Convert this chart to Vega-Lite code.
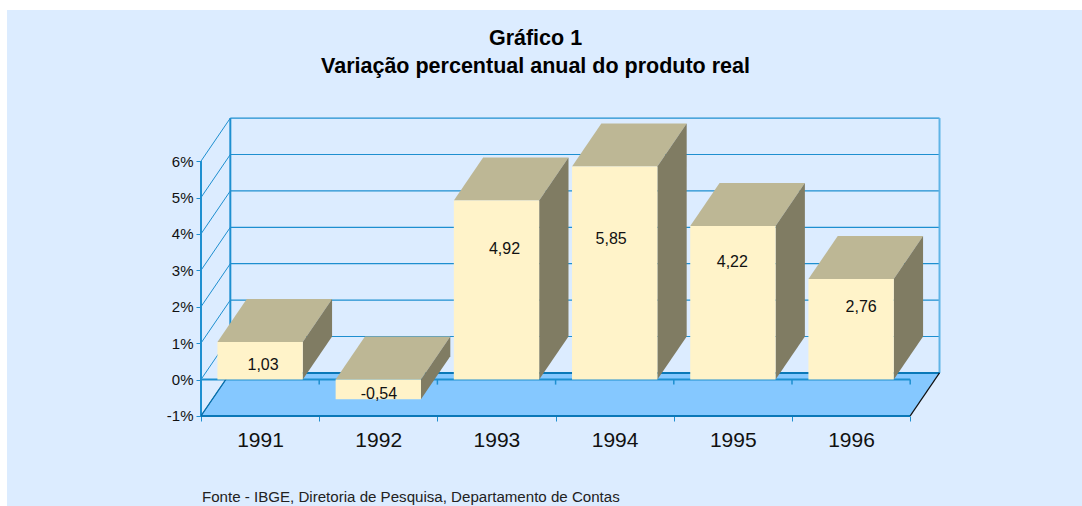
{
"$schema":"https://vega.github.io/schema/vega-lite/v6.json",
"width":1075,"height":496,
"autosize":{"type":"none"},
"padding":{"left":7,"top":10,"right":0,"bottom":0},
"background":"#FFFFFF",
"title":{"text":["Gráfico 1","Variação percentual anual do produto real"],"font":"Liberation Sans","fontWeight":"bold","fontSize":21.5,"lineHeight":28,"color":"#000000","anchor":"middle","dx":-9,"offset":-89,"baseline":"bottom"},
"config":{"view":{"fill":"#DCECFF","stroke":null},"font":"Liberation Sans"},
"datasets":{
"bars":[{"year":1991,"value":1.03},{"year":1992,"value":-0.54},{"year":1993,"value":4.92},{"year":1994,"value":5.85},{"year":1995,"value":4.22},{"year":1996,"value":2.76}],
"levels":[{"v":-1},{"v":0},{"v":1},{"v":2},{"v":3},{"v":4},{"v":5},{"v":6}],
"cats":[{"i":0},{"i":1},{"i":2},{"i":3},{"i":4},{"i":5},{"i":6}],
"one":[{"n":1}]
},
"layer":[
{"data":{"name":"one"},"transform":[{"calculate":"[0,1,2,3]","as":"k"},{"flatten":["k"]},{"calculate":"[0,0.248,6,6.248][datum.k]","as":"px"},{"calculate":"[-1,0.181,0.181,0.181][datum.k]","as":"hi"},{"calculate":"[-1,-1,-1,0.181][datum.k]","as":"lo"}],
"mark":{"type":"area","fill":"#85C8FF","stroke":null},
"encoding":{
"x":{"field":"px","type":"quantitative","scale":{"domain":[-1.6413,7.4535],"nice":false,"zero":false},"axis":{"values":[0,1,2,3,4,5,6],"labelExpr":"datum.value<6 ? ''+(1991+datum.value) : ''","labelOffset":59,"title":null,"domain":false,"grid":false,"offset":-90,"tickSize":5,"tickColor":"#1E8FD0","labelFont":"Liberation Sans","labelFontSize":21,"labelColor":"#111111","labelPadding":8,"labelOverlap":false,"labelFlush":false}},
"y":{"field":"hi","type":"quantitative","stack":null,"scale":{"domain":[-3.475,10.151],"nice":false,"zero":false},"axis":{"values":[-1,0,1,2,3,4,5,6],"labelExpr":"datum.value+'%'","title":null,"domain":false,"grid":false,"offset":-194,"tickSize":5,"tickColor":"#1E8FD0","labelFont":"Liberation Sans","labelFontSize":15,"labelColor":"#111111","labelPadding":3}},
"y2":{"field":"lo"}}},
{"data":{"name":"levels"},"transform":[{"calculate":"datum.v+1.181","as":"b"}],
"mark":{"type":"rule","color":"#1E8FD0","strokeWidth":1.2},
"encoding":{"x":{"datum":0.248,"type":"quantitative"},"x2":{"datum":6.248},"y":{"field":"b","type":"quantitative"}}},
{"data":{"name":"levels"},"transform":[{"calculate":"datum.v+1.181","as":"b"}],
"mark":{"type":"rule","color":"#1E8FD0","strokeWidth":1},
"encoding":{"x":{"datum":0,"type":"quantitative"},"x2":{"datum":0.248},
"y":{"field":"v","type":"quantitative"},
"y2":{"field":"b"}}},
{"data":{"name":"cats"},
"mark":{"type":"rule","color":"#1E8FD0","strokeWidth":1.5},
"encoding":{"x":{"field":"i","type":"quantitative"},
"y":{"datum":0,"type":"quantitative"},"y2":{"datum":-0.14}}},
{"data":{"name":"one"},"mark":{"type":"rule","color":"#1E8FD0","strokeWidth":2},"encoding":{"x":{"datum":0,"type":"quantitative"},"y":{"datum":-1,"type":"quantitative"},"y2":{"datum":6}}},
{"data":{"name":"one"},"mark":{"type":"rule","color":"#1E8FD0","strokeWidth":2},"encoding":{"x":{"datum":0.248,"type":"quantitative"},"y":{"datum":0.181,"type":"quantitative"},"y2":{"datum":7.181}}},
{"data":{"name":"one"},"mark":{"type":"rule","color":"#5FB4E6","strokeWidth":2},"encoding":{"x":{"datum":6.248,"type":"quantitative"},"y":{"datum":0.181,"type":"quantitative"},"y2":{"datum":7.181}}},
{"data":{"name":"one"},"mark":{"type":"rule","color":"#0A78B8","strokeWidth":2},"encoding":{"x":{"datum":0.248,"type":"quantitative"},"x2":{"datum":6.248},"y":{"datum":0.181,"type":"quantitative"}}},
{"data":{"name":"one"},"mark":{"type":"rule","color":"#1E8FD0","strokeWidth":2},"encoding":{"x":{"datum":0,"type":"quantitative"},"x2":{"datum":6},"y":{"datum":0,"type":"quantitative"}}},
{"data":{"name":"one"},"mark":{"type":"rule","color":"#0A78B8","strokeWidth":2},"encoding":{"x":{"datum":0,"type":"quantitative"},"x2":{"datum":6},"y":{"datum":-1,"type":"quantitative"}}},
{"data":{"name":"one"},"mark":{"type":"rule","color":"#0A6EA8","strokeWidth":1.2},"encoding":{"x":{"datum":0,"type":"quantitative"},"x2":{"datum":0.248},"y":{"datum":-1,"type":"quantitative"},"y2":{"datum":0.181}}},
{"data":{"name":"one"},"mark":{"type":"rule","color":"#111111","strokeWidth":1.2},"encoding":{"x":{"datum":6,"type":"quantitative"},"x2":{"datum":6.248},"y":{"datum":-1,"type":"quantitative"},"y2":{"datum":0.181}}},
{"data":{"name":"bars"},"transform":[
{"calculate":"datum.year-1991+0.139","as":"x0"},{"calculate":"datum.year-1991+0.861","as":"x1"},{"calculate":"max(datum.value,0)","as":"top"},{"calculate":"min(datum.value,0)","as":"bot"},
{"calculate":"[0,1,2,3]","as":"k"},{"flatten":["k"]},
{"calculate":"[datum.x0,datum.x0+0.248,datum.x1,datum.x1+0.248][datum.k]","as":"px"},
{"calculate":"datum.top+[0,1.181,1.181,1.181][datum.k]","as":"hi"},
{"calculate":"datum.top+[0,0,0,1.181][datum.k]","as":"lo"}],
"mark":{"type":"area","fill":"#BDB795","stroke":null},
"encoding":{"detail":{"field":"year"},"x":{"field":"px","type":"quantitative"},"y":{"field":"hi","type":"quantitative","stack":null},"y2":{"field":"lo"}}},
{"data":{"name":"bars"},"transform":[
{"calculate":"datum.year-1991+0.861","as":"x1"},{"calculate":"max(datum.value,0)","as":"top"},{"calculate":"min(datum.value,0)","as":"bot"},
{"calculate":"[0,1]","as":"k"},{"flatten":["k"]},
{"calculate":"datum.x1+0.248*datum.k","as":"px"},
{"calculate":"datum.top+1.181*datum.k","as":"hi"},
{"calculate":"datum.bot+1.181*datum.k","as":"lo"}],
"mark":{"type":"area","fill":"#807C63","stroke":null},
"encoding":{"detail":{"field":"year"},"x":{"field":"px","type":"quantitative"},"y":{"field":"hi","type":"quantitative","stack":null},"y2":{"field":"lo"}}},
{"data":{"name":"bars"},"transform":[{"calculate":"datum.year-1991+0.139","as":"x0"},{"calculate":"datum.year-1991+0.861","as":"x1"},{"calculate":"max(datum.value,0)","as":"top"},{"calculate":"min(datum.value,0)","as":"bot"}],
"mark":{"type":"rect","fill":"#FFF3C9"},
"encoding":{"x":{"field":"x0","type":"quantitative"},"x2":{"field":"x1"},"y":{"field":"top","type":"quantitative"},"y2":{"field":"bot"}}},
{"data":{"name":"bars"},"transform":[
{"calculate":"replace(datum.value+'','.',',')","as":"label"},
{"calculate":"datum.year-1991+{'1991':0.525,'1992':0.505,'1993':0.568,'1994':0.47,'1995':0.495,'1996':0.585}[datum.year]","as":"lx"},
{"calculate":"{'1991':0.40,'1992':-0.40,'1993':3.58,'1994':3.86,'1995':3.23,'1996':1.99}[datum.year]","as":"ly"}],
"mark":{"type":"text","font":"Liberation Sans","fontSize":16,"color":"#111111","align":"center","baseline":"middle"},
"encoding":{"x":{"field":"lx","type":"quantitative"},"y":{"field":"ly","type":"quantitative"},"text":{"field":"label"}}},
{"data":{"name":"one"},
"mark":{"type":"text","font":"Liberation Sans","fontSize":15.1,"color":"#222222","align":"left","baseline":"middle"},
"encoding":{"x":{"datum":0.008,"type":"quantitative"},"y":{"datum":-3.228,"type":"quantitative"},"text":{"value":"Fonte - IBGE, Diretoria de Pesquisa, Departamento de Contas"}}}
]
}
